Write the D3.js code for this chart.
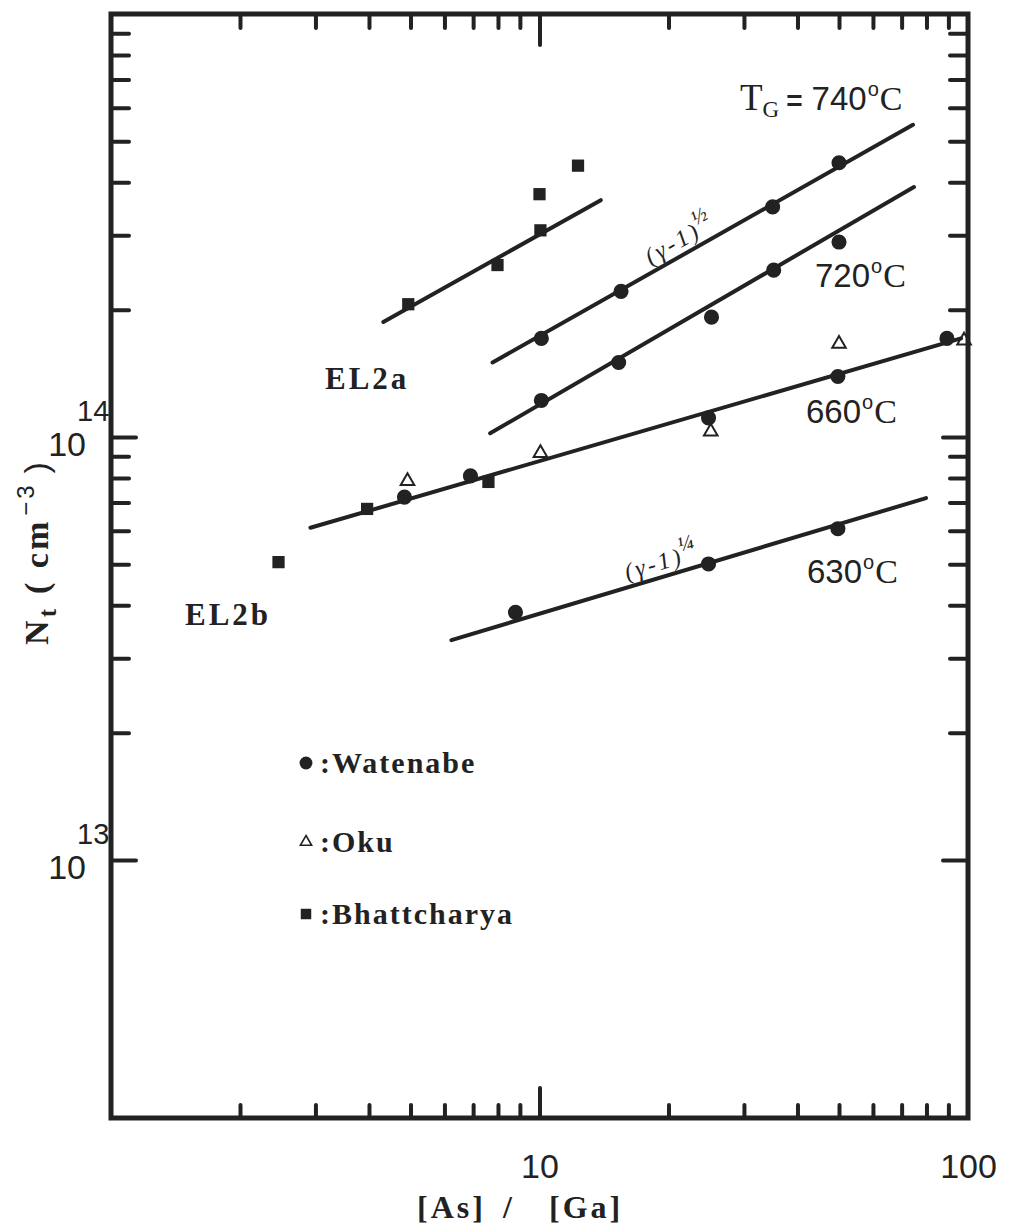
<!DOCTYPE html>
<html>
<head>
<meta charset="utf-8">
<script src="https://cdn.jsdelivr.net/npm/d3@7"></script>
<style>
  body { margin: 0; background: #fff; }
  text { fill: #222; }
</style>
</head>
<body>
<svg id="chart"></svg>
<script>
// ---- data ----
// [As]/[Ga] ratio, Nt (cm^-3)
const watanabe740 = [[10.1, 1.71e14], [15.5, 2.21e14], [35.0, 3.50e14], [50.0, 4.45e14]];
const watanabe720 = [[10.1, 1.22e14], [15.3, 1.50e14], [25.2, 1.92e14], [35.2, 2.48e14], [50.0, 2.89e14]];
const watanabe660 = [[4.84, 7.21e13], [6.90, 8.09e13], [24.8, 1.11e14], [49.7, 1.39e14], [89.3, 1.71e14]];
const watanabe630 = [[8.79, 3.85e13], [24.8, 5.01e13], [49.7, 6.07e13]];
const okuPoints = [[4.92, 7.87e13], [10.05, 9.16e13], [25.1, 1.03e14], [50.0, 1.66e14], [97.9, 1.69e14]];
const bhattPoints = [[2.46, 5.06e13], [3.96, 6.76e13], [7.6, 7.83e13], [4.94, 2.06e14], [7.98, 2.55e14],
                     [10.05, 3.08e14], [10.0, 3.75e14], [12.3, 4.38e14]];

// fitted lines: [start, end]
const line740 = [[7.77, 1.50e14], [74.4, 5.47e14]];
const line720 = [[7.67, 1.02e14], [74.8, 3.90e14]];
const line660 = [[2.92, 6.10e13], [96.3, 1.71e14]];
const line630 = [[6.23, 3.31e13], [79.8, 7.17e13]];
const lineBhatt = [[4.32, 1.87e14], [13.9, 3.63e14]];

// axes
const xTicksMinor = [2, 3, 4, 5, 6, 7, 8, 9, 20, 30, 40, 50, 60, 70, 80, 90];
const xTicksMajor = [10];
const xTickLabels = [10, 100];
const yTicksMinor = [2e13, 3e13, 4e13, 5e13, 6e13, 7e13, 8e13, 9e13,
                     2e14, 3e14, 4e14, 5e14, 6e14, 7e14, 8e14, 9e14];
const yTicksMajor = [1e13, 1e14];
const yTickExps = [13, 14];

const legendItems = [
  { name: 'Watenabe', symbol: 'circle' },
  { name: 'Oku', symbol: 'triangle' },
  { name: 'Bhattcharya', symbol: 'square' }
];

// ---- layout ----
const W = 1011, H = 1232;
const frame = { left: 111, right: 968, top: 14, bottom: 1118 };
const ink = '#222';
const SERIF = '"Liberation Serif", "Times New Roman", serif';
const SANS = '"Liberation Sans Narrow", "Liberation Sans", Arial, sans-serif';
const SANSW = '"Liberation Sans", Arial, sans-serif';

const svg = d3.select('#chart').attr('width', W).attr('height', H);
svg.append('rect').attr('width', W).attr('height', H).attr('fill', '#fff');

const x = d3.scaleLog().domain([1, 100]).range([frame.left, frame.right]);
const y = d3.scaleLog().domain([Math.pow(10, 12.39), 1e15]).range([frame.bottom, frame.top]);

// ---- ticks (inward on all four sides) ----
function ticks(axis, values, len, tx, ty) {
  svg.append('g')
    .attr('transform', `translate(${tx},${ty})`)
    .call(axis.tickValues(values).tickSize(-len).tickFormat(''))
    .call(g => g.select('.domain').remove())
    .call(g => g.selectAll('line')
      .attr('stroke', ink).attr('stroke-width', 4).attr('stroke-linecap', 'round'));
}
ticks(d3.axisBottom(x), xTicksMinor, 13, 0, frame.bottom);
ticks(d3.axisBottom(x), xTicksMajor, 30, 0, frame.bottom);
ticks(d3.axisTop(x), xTicksMinor, 14, 0, frame.top);
ticks(d3.axisTop(x), xTicksMajor, 31, 0, frame.top);
ticks(d3.axisLeft(y), yTicksMinor, 18, frame.left, 0);
ticks(d3.axisLeft(y), yTicksMajor, 25, frame.left, 0);
ticks(d3.axisRight(y), yTicksMinor, 18, frame.right, 0);
ticks(d3.axisRight(y), yTicksMajor, 25, frame.right, 0);

// frame
svg.append('rect')
  .attr('x', frame.left).attr('y', frame.top)
  .attr('width', frame.right - frame.left).attr('height', frame.bottom - frame.top)
  .attr('fill', 'none').attr('stroke', ink).attr('stroke-width', 5);

// x tick labels
svg.append('g')
  .attr('transform', `translate(0,${frame.bottom})`)
  .call(d3.axisBottom(x).tickValues(xTickLabels).tickSize(0).tickPadding(36).tickFormat(d3.format('d')))
  .call(g => g.select('.domain').remove())
  .call(g => g.selectAll('text').attr('font-family', SANSW).attr('font-size', 34).attr('fill', ink));

// y tick labels: 10 with superscript exponent
yTicksMajor.forEach((v, i) => {
  svg.append('text')
    .attr('x', frame.left - 25).attr('y', y(v) + 19)
    .attr('text-anchor', 'end')
    .attr('font-family', SANSW).attr('font-size', 34)
    .text('10');
  svg.append('text')
    .attr('x', frame.left - 34).attr('y', y(v) - 16)
    .attr('font-family', SANSW).attr('font-size', 29)
    .text(yTickExps[i]);
});

// axis titles
[['[As]', 417], ['/', 503], ['[Ga]', 549]].forEach(([s, px]) => {
  svg.append('text')
    .attr('x', px).attr('y', 1218)
    .attr('font-family', SERIF).attr('font-weight', 'bold').attr('font-size', 32)
    .attr('letter-spacing', 3)
    .text(s);
});

const yt = svg.append('text')
  .attr('transform', 'translate(48,552) rotate(-90)')
  .attr('text-anchor', 'middle')
  .attr('font-family', SERIF).attr('font-weight', 'bold').attr('font-size', 34)
  .attr('letter-spacing', 3);
yt.append('tspan').text('N');
yt.append('tspan').attr('font-size', 25).attr('dy', 8).text('t');
yt.append('tspan').attr('dy', -8).attr('dx', 12).text('( cm');
yt.append('tspan').attr('font-family', SANSW).attr('font-weight', 'normal').attr('font-size', 24)
  .attr('dy', -14).attr('dx', 3).text('−3');
yt.append('tspan').attr('font-family', SANSW).attr('font-weight', 'normal')
  .attr('dy', 14).attr('dx', 9).text(')');

// ---- fitted lines ----
const path = d3.line().x(d => x(d[0])).y(d => y(d[1]));
svg.append('g')
  .selectAll('path')
  .data([line740, line720, line660, line630, lineBhatt])
  .join('path')
  .attr('d', path)
  .attr('fill', 'none').attr('stroke', ink)
  .attr('stroke-width', 4).attr('stroke-linecap', 'round');

// ---- markers ----
const sym = {
  circle: d3.symbol().type(d3.symbolCircle).size(180),
  square: d3.symbol().type(d3.symbolSquare).size(150),
  triangle: d3.symbol().type(d3.symbolTriangle).size(80)
};
function markers(data, kind) {
  const g = svg.append('g');
  g.selectAll('path')
    .data(data)
    .join('path')
    .attr('transform', d => `translate(${x(d[0])},${y(d[1])})`)
    .attr('d', sym[kind])
    .attr('fill', kind === 'triangle' ? 'none' : ink)
    .attr('stroke', ink)
    .attr('stroke-width', kind === 'triangle' ? 2 : 0);
}
markers(bhattPoints, 'square');
markers([...watanabe740, ...watanabe720, ...watanabe660, ...watanabe630], 'circle');
markers(okuPoints, 'triangle');

// ---- annotations ----
function tempLabel(px, py, temp, prefix) {
  const t = svg.append('text').attr('x', px).attr('y', py).attr('font-size', 33);
  if (prefix) {
    t.append('tspan').attr('font-family', SERIF).attr('font-size', 37).text('T');
    t.append('tspan').attr('font-family', SERIF).attr('font-size', 23).attr('dy', 7).text('G');
    t.append('tspan').attr('font-family', SANSW).attr('font-weight', 'bold').attr('font-size', 28)
      .attr('dy', -7).attr('dx', 7).text('=');
    t.append('tspan').attr('font-family', SANS).attr('dx', 9).text(temp);
  } else {
    t.append('tspan').attr('font-family', SANS).text(temp);
  }
  t.append('tspan').attr('font-family', SANSW).attr('font-size', 20).attr('dy', -14).attr('dx', 1).text('o');
  t.append('tspan').attr('font-family', SERIF).attr('font-size', 34).attr('dy', 14).attr('dx', 1).text('C');
}
tempLabel(740, 110, '740', true);
tempLabel(815, 287, '720');
tempLabel(806, 423, '660');
tempLabel(807, 583, '630');

// power-law labels written along the lines
function lineLabel(seg, atX, frac) {
  const lx0 = Math.log10(seg[0][0]), lx1 = Math.log10(seg[1][0]);
  const ly0 = Math.log10(seg[0][1]), ly1 = Math.log10(seg[1][1]);
  const ly = ly0 + (Math.log10(atX) - lx0) / (lx1 - lx0) * (ly1 - ly0);
  const ang = Math.atan2(y(seg[1][1]) - y(seg[0][1]), x(seg[1][0]) - x(seg[0][0])) * 180 / Math.PI;
  const t = svg.append('text')
    .attr('transform', `translate(${x(atX)},${y(Math.pow(10, ly))}) rotate(${ang})`)
    .attr('dy', -7)
    .attr('font-family', SERIF).attr('font-style', 'italic').attr('font-size', 24)
    .attr('letter-spacing', 3);
  t.append('tspan').text('(γ-1)');
  t.append('tspan').attr('font-size', 21).attr('dy', -12).attr('dx', -2).text(frac);
}
lineLabel(line740, 18.5, '½');
lineLabel(line630, 16.2, '¼');

// EL2a / EL2b
[['EL2a', 325, 389], ['EL2b', 185, 625]].forEach(([s, px, py]) => {
  svg.append('text')
    .attr('x', px).attr('y', py)
    .attr('font-family', SERIF).attr('font-weight', 'bold').attr('font-size', 31)
    .attr('letter-spacing', 3)
    .text(s);
});

// ---- legend ----
const legend = svg.append('g').attr('transform', 'translate(306,0)');
const legendRows = [763, 842, 914];
const legendSym = {
  circle: d3.symbol().type(d3.symbolCircle).size(130),
  square: d3.symbol().type(d3.symbolSquare).size(110),
  triangle: d3.symbol().type(d3.symbolTriangle).size(55)
};
legendItems.forEach((it, i) => {
  legend.append('path')
    .attr('transform', `translate(0,${legendRows[i]})`)
    .attr('d', legendSym[it.symbol])
    .attr('fill', it.symbol === 'triangle' ? 'none' : ink)
    .attr('stroke', ink)
    .attr('stroke-width', it.symbol === 'triangle' ? 1.6 : 0);
  legend.append('text')
    .attr('x', 14).attr('y', legendRows[i] + 10)
    .attr('font-family', SERIF).attr('font-weight', 'bold').attr('font-size', 30)
    .attr('letter-spacing', 2)
    .text(':' + it.name);
});
</script>
</body>
</html>
